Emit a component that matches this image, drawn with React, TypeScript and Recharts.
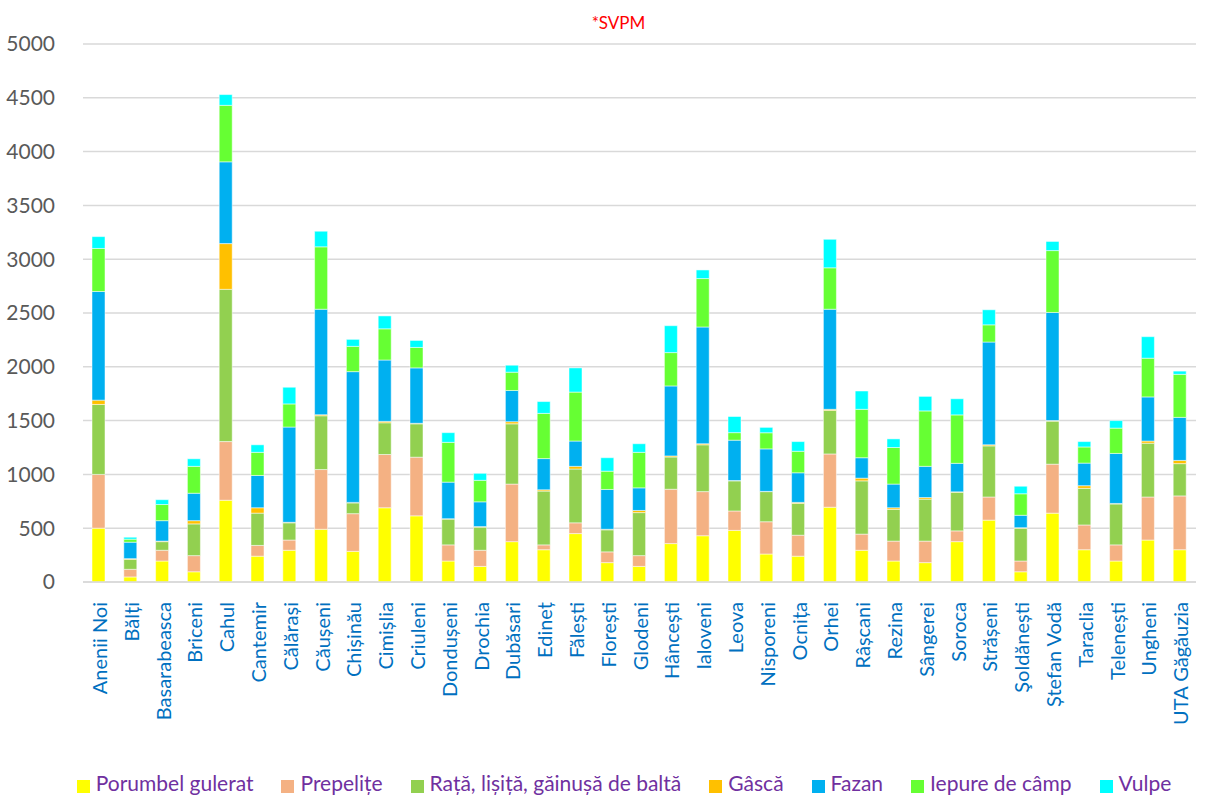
import React from 'react';
import { BarChart, Bar, XAxis, YAxis, CartesianGrid, Legend } from 'recharts';

const raioane = [
  'Anenii Noi', 'Bălți', 'Basarabeasca', 'Briceni', 'Cahul', 'Cantemir', 'Călărași', 'Căușeni',
  'Chișinău', 'Cimișlia', 'Criuleni', 'Dondușeni', 'Drochia', 'Dubăsari', 'Edineț', 'Fălești',
  'Florești', 'Glodeni', 'Hâncești', 'Ialoveni', 'Leova', 'Nisporeni', 'Ocnița', 'Orhei',
  'Râșcani', 'Rezina', 'Sângerei', 'Soroca', 'Strășeni', 'Şoldănești', 'Ștefan Vodă', 'Taraclia',
  'Telenești', 'Ungheni', 'UTA Găgăuzia',
];

const porumbel = [500, 47, 195, 95, 760, 240, 295, 490, 285, 690, 615, 195, 145, 375, 300, 450, 180, 145, 357, 430, 480, 260, 240, 695, 295, 195, 180, 375, 575, 95, 640, 300, 195, 390, 300];
const prepelite = [500, 71, 100, 150, 545, 100, 95, 555, 350, 495, 545, 150, 150, 535, 45, 100, 100, 100, 505, 410, 180, 300, 195, 495, 150, 185, 200, 100, 215, 100, 455, 230, 150, 400, 500];
const rata = [650, 93, 80, 295, 1415, 300, 160, 500, 100, 295, 310, 240, 215, 560, 500, 500, 205, 400, 300, 435, 280, 280, 295, 405, 495, 295, 390, 360, 475, 305, 400, 340, 380, 500, 300];
const gasca = [40, 6, 5, 30, 425, 50, 5, 10, 5, 13, 5, 3, 5, 20, 12, 25, 5, 20, 10, 10, 3, 2, 10, 10, 25, 15, 15, 3, 10, 5, 5, 25, 5, 20, 30];
const fazan = [1010, 153, 190, 255, 760, 300, 885, 980, 1215, 570, 515, 340, 230, 290, 290, 235, 370, 210, 650, 1085, 375, 395, 275, 930, 190, 220, 290, 265, 955, 115, 1005, 210, 465, 410, 400];
const iepure = [400, 28, 150, 250, 525, 215, 215, 580, 235, 290, 190, 370, 200, 170, 420, 455, 170, 330, 310, 450, 70, 150, 200, 385, 450, 340, 515, 450, 160, 200, 575, 150, 235, 360, 400];
const vulpe = [110, 18, 45, 70, 100, 70, 155, 145, 65, 120, 65, 90, 65, 65, 110, 225, 125, 80, 250, 80, 150, 50, 90, 265, 170, 80, 135, 150, 140, 70, 85, 50, 70, 200, 30];

const yTicks = [0, 500, 1000, 1500, 2000, 2500, 3000, 3500, 4000, 4500, 5000];

const series = [
  { key: 'porumbel', name: 'Porumbel gulerat', color: '#FFFF00' },
  { key: 'prepelite', name: 'Prepelițe', color: '#F4B183' },
  { key: 'rata', name: 'Rață, lișiță, găinușă de baltă', color: '#92D050' },
  { key: 'gasca', name: 'Gâscă', color: '#FFC000' },
  { key: 'fazan', name: 'Fazan', color: '#00B0F0' },
  { key: 'iepure', name: 'Iepure de câmp', color: '#66FF33' },
  { key: 'vulpe', name: 'Vulpe', color: '#00FFFF' },
];

const data = raioane.map((name, i) => ({
  name,
  porumbel: porumbel[i],
  prepelite: prepelite[i],
  rata: rata[i],
  gasca: gasca[i],
  fazan: fazan[i],
  iepure: iepure[i],
  vulpe: vulpe[i],
}));

const font = 'Lato, "Open Sans", sans-serif';

const RotTick = (props: any) => {
  const { x, y, payload } = props;
  return (
    <text
      x={x}
      y={y}
      transform={`rotate(-90, ${x}, ${y})`}
      textAnchor="end"
      dominantBaseline="central"
      fill="#0070C0"
      fontSize={20}
      fontFamily={font}
    >
      {payload.value}
    </text>
  );
};

const order = (item: any) => series.findIndex((s) => s.name === item.value);

export default function App() {
  return (
    <div style={{ position: 'absolute', left: 0, top: 0, width: 1205, height: 799, background: '#fff', fontFamily: font }}>
      <div style={{ position: 'absolute', left: 0, width: 1205, top: 12, textAlign: 'center', color: '#FF0000', fontSize: 17, paddingLeft: 16 }}>
        *SVPM
      </div>
      <BarChart
        width={1205}
        height={799}
        data={data}
        margin={{ top: 44, right: 9, left: 0, bottom: 4 }}
        barSize={13}
      >
        <CartesianGrid vertical={false} stroke="#D9D9D9" strokeWidth={1.5} />
        <XAxis
          dataKey="name"
          interval={0}
          height={188}
          tick={<RotTick />}
          tickLine={false}
          tickMargin={14}
          axisLine={{ stroke: '#D9D9D9', strokeWidth: 1.5 }}
        />
        <YAxis
          width={83}
          domain={[0, 5000]}
          ticks={yTicks}
          axisLine={false}
          tickLine={false}
          tickMargin={22}
          tick={{ fill: '#595959', fontSize: 21, fontFamily: font }}
        />
        <Legend
          verticalAlign="bottom"
          iconType="square"
          iconSize={13}
          itemSorter={order}
          wrapperStyle={{ paddingLeft: 40 }}
          formatter={(value: string) => (
            <span style={{ color: '#7030A0', fontSize: 21, fontFamily: font, marginLeft: 2, marginRight: 18 }}>{value}</span>
          )}
        />
        {series.map((s) => (
          <Bar
            key={s.key}
            dataKey={s.key}
            name={s.name}
            stackId="a"
            fill={s.color}
            stroke="#ffffff"
            strokeWidth={0.5}
            isAnimationActive={false}
          />
        ))}
      </BarChart>
    </div>
  );
}
